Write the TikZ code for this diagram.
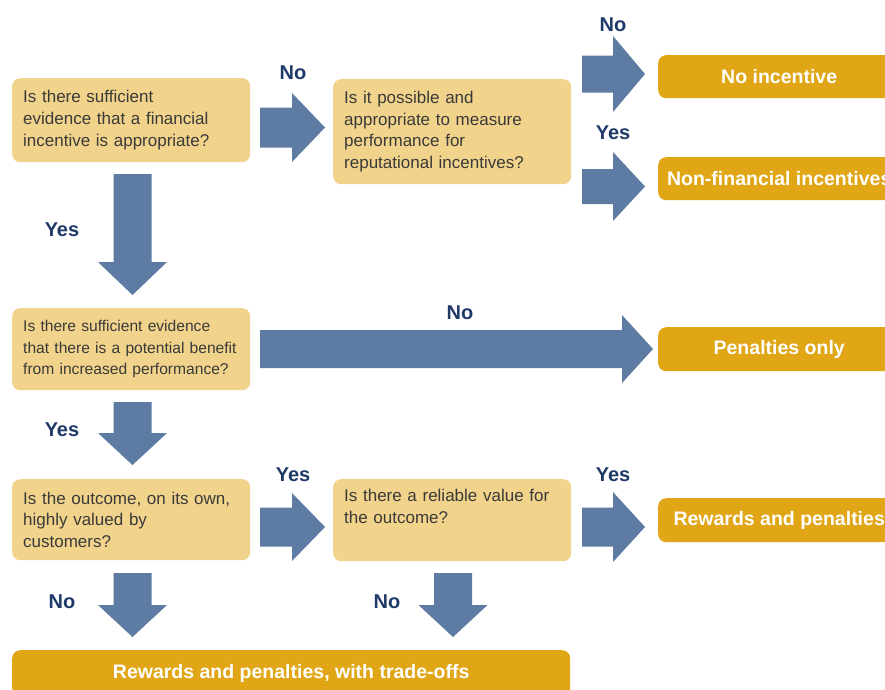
\documentclass[tikz,border=0pt]{standalone}
\usepackage{fontspec}
\setmainfont{Liberation Sans}
\hyphenpenalty=10000
\exhyphenpenalty=10000
\definecolor{qfill}{HTML}{F1D38B}
\definecolor{ofill}{HTML}{E0A616}
\definecolor{arrowc}{HTML}{5D7BA3}
\definecolor{labc}{HTML}{1F3A68}
\definecolor{qtext}{HTML}{3A3A3A}
\newcommand\hbarrow[6]{% x0, x1, xtip, yc, shaft half, head half
  \fill[arrowc] (#1,#4-#5) -- (#2,#4-#5) -- (#2,#4-#6) -- (#3,#4) -- (#2,#4+#6) -- (#2,#4+#5) -- (#1,#4+#5) -- cycle;}
\newcommand\vbarrow[6]{% y0, y1, ytip, xc, shaft half, head half
  \fill[arrowc] (#4-#5,#1) -- (#4-#5,#2) -- (#4-#6,#2) -- (#4,#3) -- (#4+#6,#2) -- (#4+#5,#2) -- (#4+#5,#1) -- cycle;}
\begin{document}
\begin{tikzpicture}[x=1pt,y=-1pt,
  qbox/.style={fill=qfill, rounded corners=8pt, anchor=north west, minimum width=238pt,
     inner xsep=11pt, inner ysep=0pt, text width=216pt, align=left, text=qtext,
     font=\fontsize{17}{21.7}\selectfont},
  obox/.style={fill=ofill, rounded corners=8pt, anchor=north west, inner sep=0pt,
     text=white, font=\bfseries\fontsize{19.5}{23}\selectfont},
  lab/.style={text=labc, font=\bfseries\fontsize{20}{24}\selectfont, inner sep=0pt}]
\clip (0,0) rectangle (885,689);
\fill[white] (0,0) rectangle (885,689);
% question boxes
\node[qbox, minimum height=84pt] (q1) at (12,78) {Is there sufficient\\evidence that a financial\\incentive is appropriate?};
\node[qbox, minimum height=105pt] (q2) at (333,79) {Is it possible and\\appropriate to measure\\performance for\\reputational incentives?};
\node[qbox, minimum height=82pt, font=\fontsize{15.6}{21.7}\selectfont] (q3) at (12,308) {\mbox{Is there sufficient evidence}\\\mbox{that there is a potential benefit}\\\mbox{from increased performance?}};
\node[qbox, minimum height=81pt] (q4) at (12,479) {Is the outcome, on its own,\\highly valued by\\customers?};
\node[qbox, minimum height=82pt] (q5) at (333,479) {Is there a reliable value for\\the outcome?\\\strut};
% outcome boxes
\node[obox, minimum width=242pt, minimum height=43pt] (o1) at (658,55) {No incentive};
\node[obox, minimum width=242pt, minimum height=43pt] (o2) at (658,157) {Non-financial incentives};
\node[obox, minimum width=242pt, minimum height=44pt] (o3) at (658,327) {Penalties only};
\node[obox, minimum width=242pt, minimum height=44pt] (o4) at (658,498) {Rewards and penalties};
\node[obox, minimum width=558pt, minimum height=46pt] (o5) at (12,650) {Rewards and penalties, with trade-offs};
% arrows
\hbarrow{260}{292}{325}{127.5}{20}{34.5}
\hbarrow{582}{613}{645}{74}{18.5}{38}
\hbarrow{582}{613}{645}{186.5}{17.5}{34.5}
\hbarrow{260}{622}{653}{349}{19}{34}
\hbarrow{260}{292}{325}{527}{19.5}{34}
\hbarrow{582}{613}{645}{527}{19.5}{35}
\vbarrow{174}{262}{295}{132.5}{19}{34.5}
\vbarrow{402}{433}{465}{132.5}{19}{34.5}
\vbarrow{573}{605}{637}{132.5}{19}{34.5}
\vbarrow{573}{605}{637}{453}{19}{34.5}
% labels
\node[lab] (l1) at (293,73) {No};
\node[lab] (l2) at (613,25) {No};
\node[lab] (l3) at (613,133) {Yes};
\node[lab] (l4) at (62,230) {Yes};
\node[lab] (l5) at (460,313) {No};
\node[lab] (l6) at (62,430) {Yes};
\node[lab] (l7) at (293,475) {Yes};
\node[lab] (l8) at (613,475) {Yes};
\node[lab] (l9) at (62,602) {No};
\node[lab] (l10) at (387,602) {No};
\end{tikzpicture}
\end{document}
